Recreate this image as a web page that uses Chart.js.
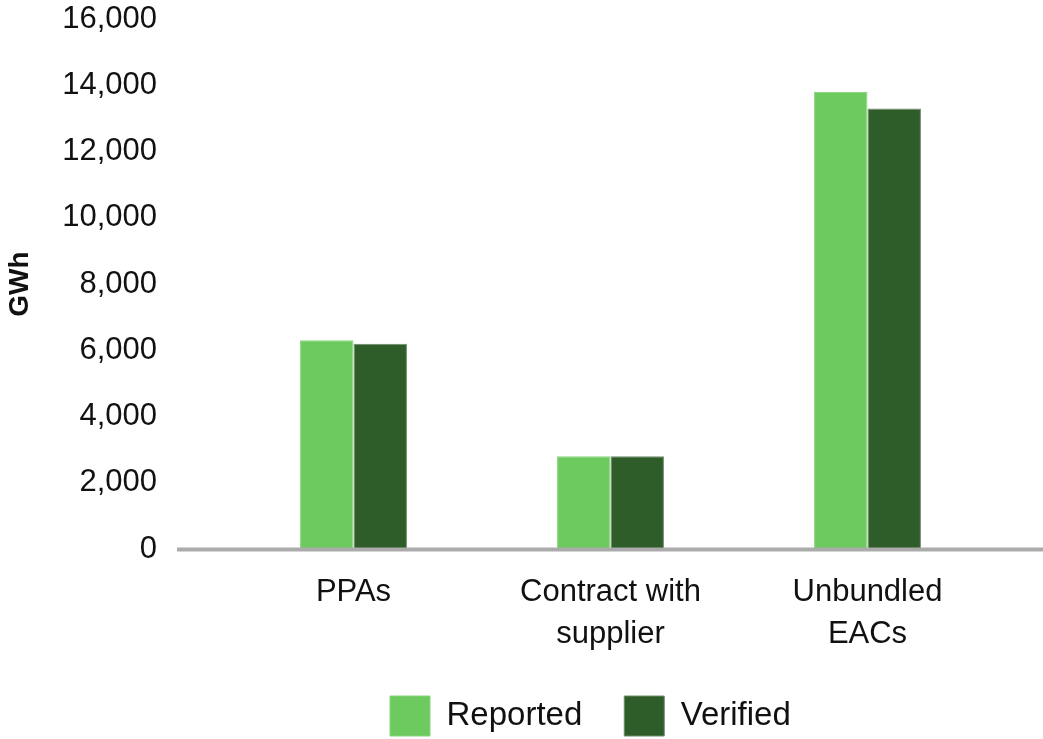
<!DOCTYPE html>
<html>
<head>
<meta charset="utf-8">
<script src="https://cdn.jsdelivr.net/npm/chart.js@4/dist/chart.umd.min.js"></script>
<style>
  html, body { margin: 0; padding: 0; background: #fff; overflow: hidden; }
  #wrap { width: 1043px; height: 739px; }
</style>
</head>
<body>
<div id="wrap"><canvas id="gwh-chart"></canvas></div>
<script>
// Дані для графіка
const categories = [["PPAs"], ["Contract with", "supplier"], ["Unbundled", "EACs"]];
const reported = [6300, 2800, 13800];
const verified = [6200, 2800, 13300];
const yMin = 0;
const yMax = 16000;
const yStep = 2000;

const FONT = "'Liberation Sans', Arial, sans-serif";
const LEGEND_PAD = 42;

// лінія осі X (сіра, ширша за область графіка)
const baseLine = {
  id: "baseLine",
  afterDatasetsDraw(chart) {
    const { ctx, scales } = chart;
    const y = scales.y.getPixelForValue(0) + 0.5;
    ctx.save();
    ctx.strokeStyle = "#ababab";
    ctx.lineWidth = 4;
    ctx.beginPath();
    ctx.moveTo(177, y);
    ctx.lineTo(chart.width, y);
    ctx.stroke();
    ctx.restore();
  },
};

// легенда в оригіналі зсунута вправо
const shiftLegend = {
  id: "shiftLegend",
  afterLayout(chart) {
    const lg = chart.legend;
    const dx = 390 - LEGEND_PAD - lg.left;
    lg.left += dx;
    lg.right += dx;
  },
};

const config = {
  type: "bar",
  data: {
    labels: categories,
    datasets: [
      {
        label: "Reported",
        data: reported,
        backgroundColor: "#6dca5f",
        borderColor: "#8bd47e",
        borderWidth: 1,
      },
      {
        label: "Verified",
        data: verified,
        backgroundColor: "#2f5d29",
        borderColor: "#6f8a6b",
        borderWidth: 1,
      },
    ],
  },
  options: {
    responsive: true,
    maintainAspectRatio: false,
    animation: false,
    layout: { padding: { top: 19, right: 47, left: 0, bottom: -7 } },
    datasets: {
      bar: { categoryPercentage: 0.416, barPercentage: 1.0 },
    },
    plugins: {
      legend: {
        position: "bottom",
        align: "start",
        labels: {
          boxWidth: 40,
          boxHeight: 40,
          padding: LEGEND_PAD,
          color: "#111",
          font: { family: FONT, size: 33 },
        },
      },
      tooltip: { enabled: false },
    },
    scales: {
      x: {
        grid: { display: false, drawTicks: true, tickLength: 23 },
        border: { display: false },
        ticks: {
          color: "#111",
          padding: 0,
          maxRotation: 0,
          font: { family: FONT, size: 31, lineHeight: 1.35 },
        },
        afterFit(scale) {
          scale.height = 105;
        },
      },
      y: {
        min: yMin,
        max: yMax,
        grid: { display: false, drawTicks: true, tickLength: 68 },
        border: { display: false },
        ticks: {
          stepSize: yStep,
          color: "#111",
          padding: 0,
          font: { family: FONT, size: 31 },
          callback: (v) => v.toLocaleString("en-US"),
        },
        title: {
          display: true,
          text: "GWh",
          color: "#111",
          padding: { top: 3, bottom: 0 },
          font: { family: FONT, size: 28, weight: "bold" },
        },
        afterFit(scale) {
          scale.width = 225;
        },
      },
    },
  },
  plugins: [baseLine, shiftLegend],
};

const ctx = document.getElementById("gwh-chart");
const gwhChart = new Chart(ctx, config);
</script>
</body>
</html>
